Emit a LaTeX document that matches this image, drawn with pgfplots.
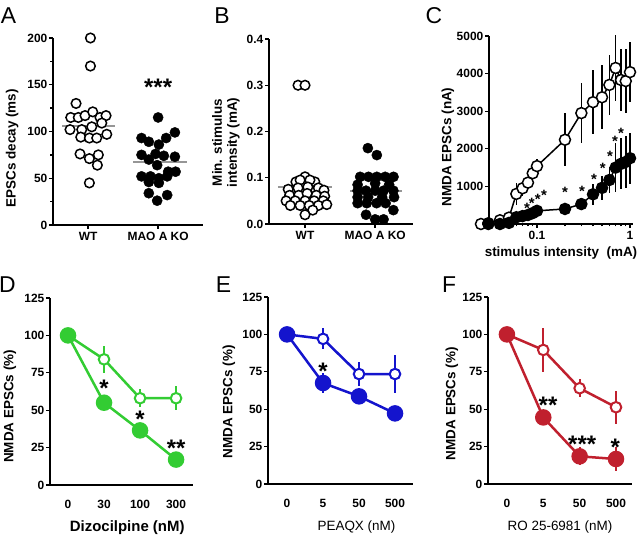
\documentclass[border=0pt]{standalone}
\usepackage{fontspec}
\setmainfont{Liberation Sans}
\usepackage{pgfplots}
\pgfplotsset{compat=1.18}
\definecolor{dgreen}{RGB}{51,204,51}
\definecolor{dblue}{RGB}{20,20,205}
\definecolor{dred}{RGB}{192,32,46}
\definecolor{meangray}{RGB}{150,150,150}
\tikzset{
 startxt/.style={font=\bfseries\fontsize{24}{24}\selectfont, yshift=-5bp},
 cstar/.style={font=\bfseries\fontsize{15}{15}\selectfont, yshift=-3bp},
 letter/.style={font=\fontsize{23}{23}\selectfont, anchor=center},
}
\pgfplotsset{
 panel/.style={
  scale only axis, axis lines=left,
  axis line style={-, line width=1.5bp, black},
  tick align=outside,
  tick style={black, line width=1.3bp},
  major tick length=4bp, minor tick length=2.5bp,
  enlargelimits=false, clip=false,
  /pgf/number format/assume math mode=true,
  tick label style={font=\bfseries\fontsize{12}{14}\selectfont},
  yticklabel style={inner sep=1.5bp},
  every axis y label/.style={rotate=90, anchor=center, align=center, font=\bfseries\fontsize{13.5}{15}\selectfont},
  every axis x label/.style={anchor=center, font=\bfseries\fontsize{13.5}{15}\selectfont},
 },
 openA/.style={only marks, mark=*, mark size=4.8bp, mark options={fill=white, draw=black, line width=1.5bp}},
 fillA/.style={only marks, mark=*, mark size=5.1bp, mark options={fill=black, draw=black}},
 meanA/.style={meangray, line width=2bp, no marks},
 openD/.style={#1, line width=2.5bp, mark=*, mark size=5.3bp, mark options={fill=white, draw=#1, line width=2bp},
   error bars/.cd, y dir=both, y explicit, error bar style={line width=2bp, #1}, error mark=none},
 fillD/.style={#1, line width=2.5bp, mark=*, mark size=7bp, mark options={fill=#1, draw=#1},
   error bars/.cd, y dir=both, y explicit, error bar style={line width=2bp, #1}, error mark=none},
}
\begin{document}
\begin{tikzpicture}
\useasboundingbox (0,0) rectangle (640bp,538bp);
\node[letter] at (8.5bp,522bp) {A};
\node[letter] at (222bp,522bp) {B};
\node[letter] at (434bp,522bp) {C};
\node[letter] at (7.5bp,253.5bp) {D};
\node[letter] at (223.5bp,253.5bp) {E};
\node[letter] at (449bp,253.5bp) {F};

% ---------------- A ----------------
\begin{axis}[panel, at={(53bp,313bp)}, anchor=south west, width=150bp, height=187bp,
 xmin=0.5, xmax=2.64, ymin=0, ymax=200, ytick={0,50,...,200}, minor ytick={25,75,125,175},
 xtick={1,2}, xticklabels={WT,MAO A KO},
 ylabel={EPSCs decay (ms)}, ylabel style={at={(axis description cs:-0.273,0.41)}}]
\addplot[openA] coordinates {
(1.034,200) (1.034,170) (0.829,130) (0.753,115) (0.861,115) (0.957,117) (1.067,121)
(1.171,115) (1.257,117) (0.743,102) (0.910,102) (1.053,105) (1.196,109) (1.267,97)
(0.896,94) (1.019,93) (1.124,93) (0.886,76) (1.019,71) (1.147,75) (1.133,64) (1.019,45)};
\addplot[fillA] coordinates {
(2.0,115) (1.763,93) (1.867,89) (2.01,86) (2.114,93) (2.239,99) (1.763,75) (1.963,76)
(2.081,74) (2.239,73) (1.867,70) (1.986,64) (1.763,52) (1.891,52) (2.01,50) (2.143,57)
(2.249,57) (1.867,46) (2.01,45) (2.129,52) (1.867,34) (2.129,32) (1.986,26)};
\addplot[meanA] coordinates {(0.629,106) (1.386,106)};
\addplot[meanA] coordinates {(1.643,67) (2.414,67)};
\node[startxt] at (axis cs:2.0,153) {***};
\end{axis}

% ---------------- B ----------------
\begin{axis}[panel, at={(269bp,314bp)}, anchor=south west, width=144bp, height=185bp,
 xmin=0.486, xmax=2.54, ymin=0, ymax=0.4, ytick={0,0.1,0.2,0.3,0.4}, yticklabels={0.0,0.1,0.2,0.3,0.4},
 xtick={1,2}, xticklabels={WT,MAO A KO},
 ylabel={Min. stimulus\\intensity (mA)}, ylabel style={at={(axis description cs:-0.30,0.44)}}]
\addplot[openA] coordinates {
(0.90,0.300) (1.00,0.300)
(0.87,0.091) (1.00,0.102) (1.14,0.091) (0.93,0.095) (1.07,0.095)
(0.76,0.075) (0.90,0.078) (1.04,0.080) (1.19,0.078) (1.27,0.073)
(0.78,0.062) (0.91,0.062) (1.03,0.066) (1.16,0.062) (1.28,0.060)
(0.73,0.050) (0.86,0.050) (1.00,0.050) (1.13,0.050) (1.26,0.050)
(0.79,0.040) (0.93,0.040) (1.06,0.040) (1.19,0.040) (1.31,0.042)
(1.11,0.030) (1.00,0.020)};
\addplot[fillA] coordinates {
(1.896,0.164) (2.024,0.149)
(1.786,0.102) (1.905,0.102) (2.024,0.102) (2.143,0.102) (2.262,0.102)
(1.75,0.085) (2.0,0.088) (2.2,0.085)
(1.75,0.072) (1.87,0.072) (2.0,0.072) (2.12,0.072) (2.26,0.072)
(1.75,0.058) (1.9,0.058) (2.1,0.058) (2.27,0.058)
(1.75,0.045) (1.88,0.045) (2.02,0.045) (2.15,0.045)
(2.26,0.030) (1.87,0.020) (2.0,0.010) (2.12,0.010)};
\addplot[meanA] coordinates {(0.614,0.081) (1.386,0.081)};
\addplot[meanA] coordinates {(1.643,0.071) (2.386,0.071)};
\end{axis}

% ---------------- C ----------------
\begin{axis}[panel, at={(489bp,314bp)}, anchor=south west, width=144bp, height=188bp,
 xmode=log, xmin=0.0305, xmax=1.077, ymin=0, ymax=5000,
 xtick={0.1,1}, xticklabels={0.1,1},
 minor xtick={0.04,0.05,0.06,0.07,0.08,0.09,0.2,0.3,0.4,0.5,0.6,0.7,0.8,0.9},
 ytick={0,1000,2000,3000,4000,5000}, yticklabels={0,1000,2000,3000,4000,5000},
 ylabel={NMDA EPSCs (nA)}, ylabel style={at={(axis description cs:-0.285,0.41)}},
 xlabel={stimulus intensity\ \ (mA)}, xlabel style={at={(axis description cs:0.5,-0.154)}}]
\addplot[black, line width=1.5bp, mark=*, mark size=5.5bp, mark options={fill=white, draw=black, line width=1.5bp},
 error bars/.cd, y dir=both, y explicit, error bar style={line width=1.5bp, black}, error mark=none]
 coordinates {
 (0.025,0) +- (0,0) (0.03,20) +- (0,0) (0.04,100) +- (0,30) (0.05,170) +- (0,80)
 (0.06,800) +- (0,300) (0.07,950) +- (0,200) (0.08,1100) +- (0,150) (0.09,1350) +- (0,150)
 (0.1,1540) +- (0,200) (0.2,2240) +- (0,700) (0.3,2950) +- (0,800) (0.4,3240) +- (0,850)
 (0.5,3370) +- (0,850) (0.6,3700) +- (0,800) (0.7,4150) +- (0,880) (0.8,3830) +- (0,820)
 (0.9,3800) +- (0,850) (1.0,4040) +- (0,800)};
\addplot[black, line width=1.5bp, mark=*, mark size=5.5bp, mark options={fill=black, draw=black},
 error bars/.cd, y dir=both, y explicit, error bar style={line width=1.5bp, black}, error mark=none]
 coordinates {
 (0.03,0) +- (0,0) (0.04,0) +- (0,0) (0.05,30) +- (0,20) (0.06,180) +- (0,40)
 (0.07,210) +- (0,50) (0.08,240) +- (0,50) (0.09,290) +- (0,60) (0.1,350) +- (0,70)
 (0.2,400) +- (0,80) (0.3,530) +- (0,100) (0.4,790) +- (0,280) (0.5,960) +- (0,320)
 (0.6,1170) +- (0,350) (0.7,1500) +- (0,650) (0.8,1600) +- (0,680) (0.9,1650) +- (0,700)
 (1.0,1750) +- (0,680)};
\node[cstar] at (axis cs:0.078,505) {*};
\node[cstar] at (axis cs:0.088,640) {*};
\node[cstar] at (axis cs:0.102,745) {*};
\node[cstar] at (axis cs:0.119,850) {*};
\node[cstar] at (axis cs:0.2,930) {*};
\node[cstar] at (axis cs:0.305,960) {*};
\node[cstar] at (axis cs:0.41,1280) {*};
\node[cstar] at (axis cs:0.51,1570) {*};
\node[cstar] at (axis cs:0.61,1890) {*};
\node[cstar] at (axis cs:0.69,2290) {*};
\node[cstar] at (axis cs:0.8,2500) {*};
\end{axis}

% ---------------- D ----------------
\begin{axis}[panel, at={(50bp,53bp)}, anchor=south west, width=143bp, height=187bp,
 xmin=-0.5, xmax=3.47, ymin=0, ymax=125, ytick={0,25,...,125},
 xtick={0,1,2,3}, xticklabels={0,30,100,300}, major x tick style={draw=none}, xticklabel shift=8bp,
 ylabel={NMDA EPSCs (\%)}, ylabel style={at={(axis description cs:-0.28,0.42)}},
 xlabel={Dizocilpine (nM)}, xlabel style={at={(axis description cs:0.54,-0.23)}, font=\bfseries\fontsize{15}{17}\selectfont}]
\addplot[openD=dgreen] coordinates {(0,100) +- (0,0) (1,84) +- (0,9) (2,58) +- (0,6) (3,58) +- (0,8)};
\addplot[fillD=dgreen] coordinates {(0,100) +- (0,0) (1,55) +- (0,2) (2,36.5) +- (0,2) (3,17) +- (0,4)};
\node[startxt] at (axis cs:1,68) {*};
\node[startxt] at (axis cs:2,47) {*};
\node[startxt] at (axis cs:3,28) {**};
\end{axis}

% ---------------- E ----------------
\begin{axis}[panel, at={(268bp,54bp)}, anchor=south west, width=145bp, height=187bp,
 xmin=-0.53, xmax=3.5, ymin=0, ymax=125, ytick={0,25,...,125},
 xtick={0,1,2,3}, xticklabels={0,5,50,500}, major x tick style={draw=none}, xticklabel shift=8bp,
 ylabel={NMDA EPSCs (\%)}, ylabel style={at={(axis description cs:-0.27,0.44)}},
 xlabel={PEAQX (nM)}, xlabel style={at={(axis description cs:0.61,-0.23)}, font=\fontsize{13.5}{15}\selectfont}]
\addplot[openD=dblue] coordinates {(0,100) +- (0,0) (1,97) +- (0,7) (2,73.5) +- (0,8) (3,73.5) +- (0,13)};
\addplot[fillD=dblue] coordinates {(0,100) +- (0,0) (1,67.5) +- (0,7) (2,58.6) +- (0,2) (3,47.2) +- (0,2)};
\node[startxt] at (axis cs:1,79) {*};
\end{axis}

% ---------------- F ----------------
\begin{axis}[panel, at={(488bp,54bp)}, anchor=south west, width=144bp, height=187bp,
 xmin=-0.52, xmax=3.44, ymin=0, ymax=125, ytick={0,25,...,125},
 xtick={0,1,2,3}, xticklabels={0,5,50,500}, major x tick style={draw=none}, xticklabel shift=8bp,
 ylabel={NMDA EPSCs (\%)}, ylabel style={at={(axis description cs:-0.25,0.43)}},
 xlabel={RO 25-6981 (nM)}, xlabel style={at={(axis description cs:0.50,-0.23)}, font=\fontsize{13.5}{15}\selectfont}]
\addplot[openD=dred] coordinates {(0,100) +- (0,0) (1,89.6) +- (0,14.5) (2,64) +- (0,6) (3,51.3) +- (0,11)};
\addplot[fillD=dred] coordinates {(0,100) +- (0,0) (1,44.5) +- (0,3) (2,18.5) +- (0,6) (3,16.7) +- (0,8)};
\node[startxt] at (axis cs:1.13,55.7) {**};
\node[startxt] at (axis cs:2.07,30) {***};
\node[startxt] at (axis cs:2.98,28) {*};
\end{axis}
\end{tikzpicture}
\end{document}
